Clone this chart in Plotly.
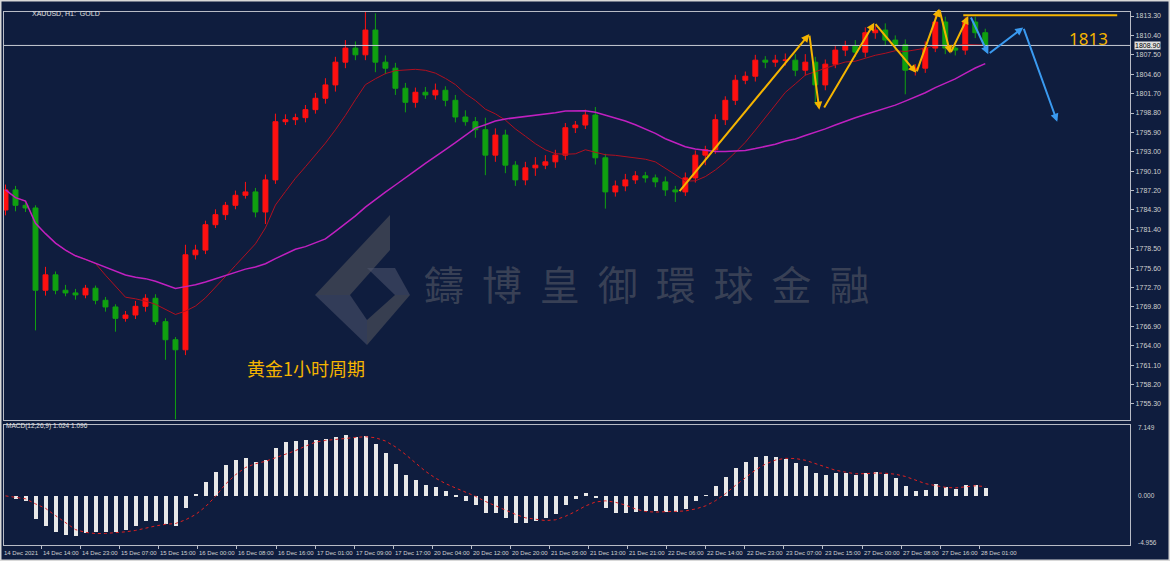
import plotly.graph_objects as go
import pandas as pd
import numpy as np

close = [1787.3,1785.0,1784.6,1772.3,1774.6,1772.3,1771.9,1771.6,1772.6,1770.8,
         1769.8,1768.1,1768.6,1769.9,1771.1,1767.6,1764.9,1763.4,1777.6,1778.3,
         1782.1,1783.6,1785.0,1786.5,1787.0,1784.0,1788.8,1797.5,1797.8,1798.1,
         1799.3,1801.0,1803.0,1806.4,1808.5,1807.5,1811.2,1806.4,1805.5,1802.5,
         1800.4,1801.9,1801.5,1802.2,1800.7,1798.2,1797.5,1796.3,1792.5,1795.5,
         1791.0,1788.8,1790.6,1791.0,1791.5,1792.5,1796.6,1797.0,1798.5,1792.1,
         1787.0,1787.9,1788.8,1789.4,1789.1,1788.5,1787.3,1787.0,1789.1,1792.5,
         1793.3,1797.8,1800.7,1803.7,1804.3,1806.7,1806.4,1806.7,1806.7,1805.2,
         1806.4,1803.0,1806.1,1808.2,1808.8,1807.9,1810.8,1811.2,1809.7,1809.0,
         1805.2,1805.5,1808.5,1812.4,1808.5,1808.2,1812.4,1810.8,1808.9]
first_open = 1784.3
wick_up = [0.8,0.6,0.5,0.4,1.2,0.5,0.8,0.6,0.5,0.4,
           0.5,0.4,0.6,0.8,0.6,0.6,0.5,0.4,1.5,0.8,
           0.6,0.8,0.5,0.7,1.5,0.6,0.8,1.2,0.8,0.6,
           0.7,0.8,1.0,0.8,1.2,1.0,3.0,2.5,1.0,0.8,
           0.8,0.7,0.8,1.0,0.6,0.8,1.0,0.7,1.8,1.0,
           0.8,0.6,0.9,1.2,1.0,0.8,0.7,0.6,0.8,1.2,
           0.6,0.8,0.9,0.7,0.6,0.5,0.8,0.6,0.8,0.7,
           0.6,0.8,0.6,0.8,0.7,0.8,0.6,0.8,1.0,0.9,
           1.2,0.8,0.7,0.6,0.8,0.9,0.8,0.6,1.0,0.7,
           0.8,0.6,1.0,1.2,0.8,0.6,0.7,0.8,0.6]
wick_dn = [0.8,0.9,0.6,6.0,0.8,0.6,0.5,0.7,0.5,0.6,
           0.7,2.0,0.5,0.6,0.8,0.5,3.0,10.4,0.8,0.7,
           0.6,0.5,0.8,0.6,0.5,0.8,1.8,0.6,0.5,0.8,
           0.7,0.6,0.8,1.0,0.9,0.8,0.8,1.5,0.9,1.0,
           1.5,0.8,0.6,0.7,0.9,0.8,0.6,1.2,3.0,1.0,
           1.2,0.9,0.8,1.2,0.6,0.9,0.7,0.8,0.6,1.0,
           2.5,0.7,0.8,0.6,0.7,0.8,0.9,1.5,0.6,0.7,
           1.5,0.6,0.8,0.7,0.6,0.8,0.9,0.7,0.8,0.9,
           0.8,3.0,0.8,0.6,0.9,0.7,0.8,0.9,0.8,0.9,
           3.6,0.8,0.7,0.6,0.9,0.8,0.7,0.8,0.9]

x_labels = ["14 Dec 2021","14 Dec 14:00","14 Dec 23:00","15 Dec 07:00","15 Dec 15:00",
            "16 Dec 00:00","16 Dec 08:00","16 Dec 16:00","17 Dec 01:00","17 Dec 09:00",
            "17 Dec 17:00","20 Dec 04:00","20 Dec 12:00","20 Dec 20:00","21 Dec 05:00",
            "21 Dec 13:00","21 Dec 21:00","22 Dec 06:00","22 Dec 14:00","22 Dec 23:00",
            "23 Dec 07:00","23 Dec 15:00","27 Dec 00:00","27 Dec 08:00","27 Dec 16:00",
            "28 Dec 01:00"]
price_ticks = [1755.30,1758.20,1761.10,1764.00,1766.90,1769.80,1772.70,1775.60,1778.50,
               1781.40,1784.30,1787.20,1790.10,1793.00,1795.90,1798.80,1801.70,1804.60,
               1807.50,1810.40,1813.30]
last_price = 1808.90
resistance = 1813.4

# drawn analysis (bar index, price)
yellow_path = [(67.3,1786.9),(80.4,1810.6),(81.4,1799.3)]
yellow_path2 = [(81.8,1799.4),(86.9,1812.3),(91.1,1804.8),(93.4,1814.4),(94.5,1807.7),(96.3,1813.3)]
blue_path = [(96.5,1813.3),(98.3,1807.6),(101.8,1811.6),(105.2,1797.5)]

n = len(close)
idx = np.arange(n)
opens = [first_open] + close[:-1]
high = [max(o, c) + w for o, c, w in zip(opens, close, wick_up)]
low = [min(o, c) - w for o, c, w in zip(opens, close, wick_dn)]
s = pd.Series(close)
ma_fast = s.rolling(10, min_periods=1).mean()
ma_slow = s.rolling(30, min_periods=1).mean()
macd = s.ewm(span=6, adjust=False).mean() - s.ewm(span=13, adjust=False).mean()
signal = macd.rolling(5, min_periods=1).mean()

BG = "#0f1d3e"
FR = "#b8bcc6"
TF = "Liberation Sans"
fig = go.Figure()
fig.add_trace(go.Candlestick(x=idx, open=opens, high=high, low=low, close=close,
    increasing=dict(line=dict(color="#ff1010", width=1), fillcolor="#ff1010"),
    decreasing=dict(line=dict(color="#10a010", width=1), fillcolor="#10a010"),
    whiskerwidth=0, xaxis="x", yaxis="y", showlegend=False))
fig.add_trace(go.Scatter(x=idx, y=ma_fast, mode="lines", line=dict(color="#b01020", width=1), showlegend=False))
fig.add_trace(go.Scatter(x=idx, y=ma_slow, mode="lines", line=dict(color="#c020c0", width=1.5), showlegend=False))
fig.add_trace(go.Bar(x=idx, y=macd, marker=dict(color="#e8e8e8", line=dict(width=0)), width=0.4,
                     xaxis="x2", yaxis="y2", showlegend=False))
fig.add_trace(go.Scatter(x=idx, y=signal, mode="lines", line=dict(color="#e02020", width=1, dash="dot"),
                         xaxis="x2", yaxis="y2", showlegend=False))

ann = []
def arrows(path, color):
    for (x0, y0), (x1, y1) in zip(path[:-1], path[1:]):
        ann.append(dict(x=x1, y=y1, ax=x0, ay=y0, xref="x", yref="y", axref="x", ayref="y",
                        showarrow=True, arrowhead=2, arrowsize=0.8, arrowwidth=2, arrowcolor=color, text=""))
arrows(yellow_path, "#f5b400")
arrows(yellow_path2, "#f5b400")
arrows(blue_path, "#3a9af0")

XR = [-0.2, 112.5]
for k, lab in enumerate(x_labels):
    px = 2 + 39.08 * k
    ann.append(dict(x=px / 1170, y=1-548/561, xref="paper", yref="paper", text=lab, showarrow=False,
                    xanchor="left", yanchor="top", font=dict(size=6, color="#d0d0d0", family=TF)))
ann += [
    dict(x=1134/1170, y=last_price, xref="paper", yref="y", text="1808.90", showarrow=False, xanchor="left",
         bgcolor="#e0e0e0", font=dict(size=7, color="#000000", family=TF), borderpad=0),
    dict(x=30/1170, y=1-8/561, xref="paper", yref="paper", text="XAUUSD, H1:  GOLD", showarrow=False,
         xanchor="left", font=dict(size=7, color="#e0e0e0", family=TF)),
    dict(x=4/1170, y=1-432/561, xref="paper", yref="paper", text="MACD(12,26,9) 1.024 1.096", showarrow=False,
         xanchor="left", font=dict(size=6.5, color="#e0e0e0", family=TF)),
    dict(x=245/1170, y=1-383/561, xref="paper", yref="paper", text="黄金1小时周期", showarrow=False,
         xanchor="left", font=dict(size=18, color="#f5b400", family="Noto Sans CJK SC")),
    dict(x=1088/1170, y=1-25/561, xref="paper", yref="paper", text="1813", showarrow=False, xanchor="center",
         font=dict(size=17, color="#f5b400", family="Noto Sans")),
    dict(x=646/1170, y=1-283/561, xref="paper", yref="paper", text="鑄  博  皇  御  環  球  金  融", showarrow=False,
         xanchor="center", font=dict(size=40, color="rgba(110,110,115,0.45)", family="Noto Sans CJK TC")),
    dict(x=1136/1170, y=1-433/561, xref="paper", yref="paper", text="7.149", showarrow=False, xanchor="left",
         font=dict(size=6.5, color="#d0d0d0", family=TF)),
    dict(x=1136/1170, y=1-501/561, xref="paper", yref="paper", text="0.000", showarrow=False, xanchor="left",
         font=dict(size=6.5, color="#d0d0d0", family=TF)),
    dict(x=1136/1170, y=1-548/561, xref="paper", yref="paper", text="-4.956", showarrow=False, xanchor="left",
         font=dict(size=6.5, color="#d0d0d0", family=TF)),
]

shapes = [
    dict(type="line", xref="paper", yref="y", x0=0.003, x1=0.966, y0=last_price, y1=last_price,
         line=dict(color="#c8ccd4", width=1)),
    dict(type="line", xref="x", yref="y", x0=95.8, x1=111.2, y0=resistance, y1=resistance,
         line=dict(color="#f5b400", width=2)),
    dict(type="rect", xref="paper", yref="paper", x0=0, x1=1, y0=0, y1=1, line=dict(color="#d8d8d8", width=3)),
    dict(type="path", xref="paper", yref="paper", layer="above",
         path=f"M {315/1170} {1-295/561} L {390/1170} {1-215/561} L {390/1170} {1-250/561} L {350/1170} {1-295/561} Z",
         fillcolor="rgba(90,90,95,0.55)", line=dict(width=0)),
    dict(type="path", xref="paper", yref="paper", layer="above",
         path=f"M {315/1170} {1-295/561} L {367/1170} {1-345/561} L {367/1170} {1-320/561} L {350/1170} {1-295/561} Z",
         fillcolor="rgba(80,85,110,0.55)", line=dict(width=0)),
    dict(type="path", xref="paper", yref="paper", layer="above",
         path=f"M {367/1170} {1-345/561} L {410/1170} {1-295/561} L {395/1170} {1-295/561} L {367/1170} {1-320/561} Z",
         fillcolor="rgba(90,90,95,0.55)", line=dict(width=0)),
    dict(type="path", xref="paper", yref="paper", layer="above",
         path=f"M {367/1170} {1-268/561} L {395/1170} {1-268/561} L {410/1170} {1-295/561} L {395/1170} {1-295/561} Z",
         fillcolor="rgba(80,85,110,0.55)", line=dict(width=0)),
]

fig.update_layout(
    width=1170, height=561, margin=dict(l=0, r=0, t=0, b=0, autoexpand=False),
    paper_bgcolor=BG, plot_bgcolor=BG,
    xaxis=dict(domain=[0.003, 0.966], range=XR, showticklabels=False, showgrid=False, zeroline=False,
               rangeslider=dict(visible=False), showline=True, mirror=True, linecolor=FR, linewidth=1),
    yaxis=dict(domain=[1-420/561, 1-12/561], range=[1752.9, 1813.9], side="right", tickvals=price_ticks,
               tickformat=".2f", ticks="outside", ticklen=3, tickcolor=FR, showgrid=False, zeroline=False,
               tickfont=dict(size=7, color="#d0d0d0", family=TF), automargin=False,
               showline=True, mirror=True, linecolor=FR, linewidth=1),
    xaxis2=dict(domain=[0.003, 0.966], range=XR, anchor="y2", tickvals=[(2 + 39.08*k - 5)/10 for k in range(len(x_labels))],
                ticktext=[""]*len(x_labels), ticks="outside", ticklen=3, tickcolor=FR, showgrid=False, zeroline=False,
                showline=True, mirror=True, linecolor=FR, linewidth=1, automargin=False),
    yaxis2=dict(domain=[1-545/561, 1-425/561], range=[-5.17, 7.465], anchor="x2", side="right",
                showticklabels=False, showgrid=False, zeroline=False, automargin=False,
                showline=True, mirror=True, linecolor=FR, linewidth=1),
    annotations=ann, shapes=shapes, bargap=0,
)
fig.write_html("out.html", config={"displayModeBar": False},
               post_script="document.body.style.margin='0';document.body.style.overflow='hidden';")
